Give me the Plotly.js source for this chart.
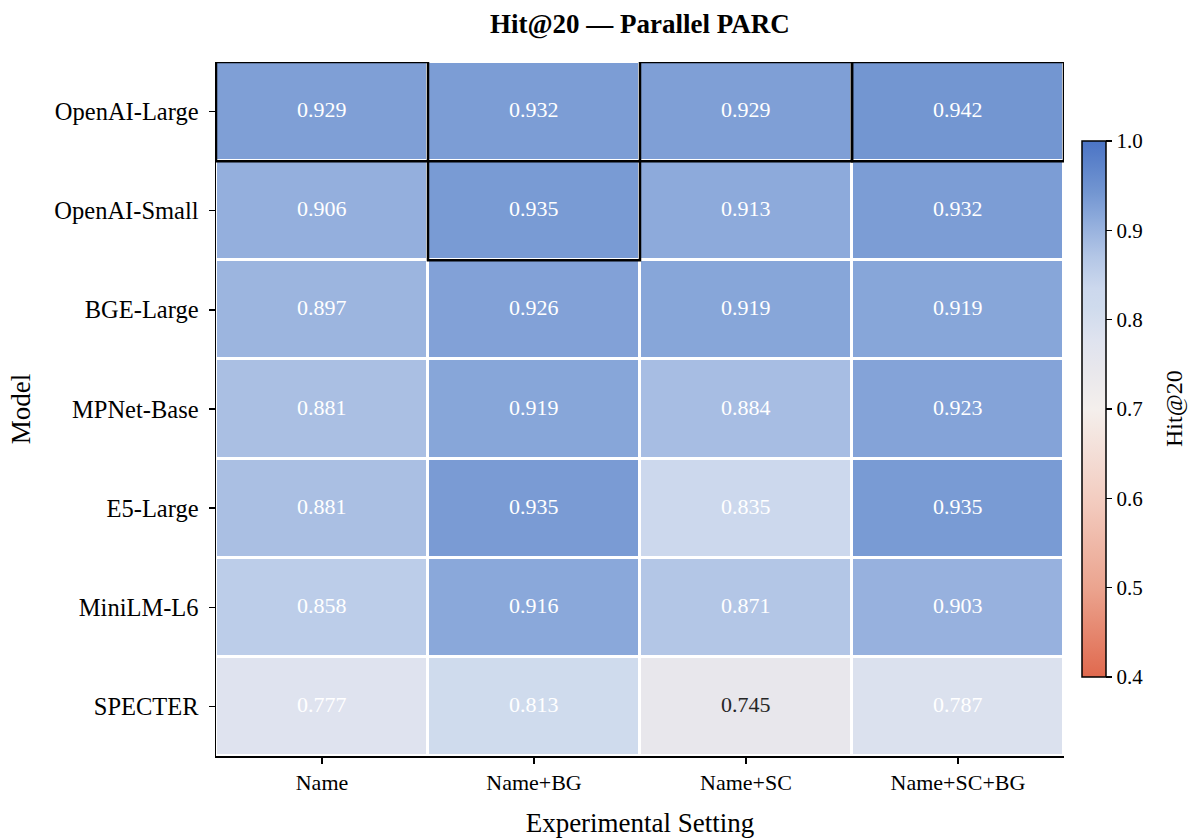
<!DOCTYPE html>
<html>
<head>
<meta charset="utf-8">
<script src="https://cdn.plot.ly/plotly-3.0.1.min.js"></script>
<style>html,body{margin:0;padding:0;background:#fff;}#chart{width:1192px;height:838px;}</style>
</head>
<body>
<div id="chart"></div>
<script>
const settings = ["Name", "Name+BG", "Name+SC", "Name+SC+BG"];
const models = ["OpenAI-Large", "OpenAI-Small", "BGE-Large", "MPNet-Base", "E5-Large", "MiniLM-L6", "SPECTER"];
const hitName      = [0.929, 0.906, 0.897, 0.881, 0.881, 0.858, 0.777];
const hitNameBG    = [0.932, 0.9352, 0.926, 0.919, 0.9348, 0.916, 0.813];
const hitNameSC    = [0.929, 0.913, 0.919, 0.884, 0.835, 0.871, 0.745];
const hitNameSCBG  = [0.942, 0.932, 0.919, 0.923, 0.935, 0.903, 0.787];
const cbTicks = [0.4, 0.5, 0.6, 0.7, 0.8, 0.9, 1.0];

const cols = [hitName, hitNameBG, hitNameSC, hitNameSCBG];
const z = models.map((m, i) => cols.map(c => c[i]));

const vmin = 0.4, vmax = 1.0;
const stops = [
  [0.4, "#e0694e"], [0.5, "#eba48f"], [0.6, "#f3cdc1"], [0.7, "#f4efec"],
  [0.745, "#e8e7ec"], [0.777, "#dfe3ef"], [0.813, "#cfdbed"], [0.835, "#ccd8ed"],
  [0.871, "#b3c6e6"], [0.906, "#94afdd"], [0.916, "#8aa8da"], [0.929, "#7f9fd6"],
  [0.942, "#7396d1"], [1.0, "#4b74c5"]
];
const colorscale = stops.map(s => [(s[0] - vmin) / (vmax - vmin), s[1]]);

const FONT = "Liberation Serif, Times New Roman, serif";

const annotations = [];
models.forEach((m, i) => {
  settings.forEach((s, j) => {
    const v = z[i][j];
    annotations.push({
      x: s, y: m, xref: "x", yref: "y", text: v.toFixed(3), showarrow: false, yshift: 2,
      font: {family: FONT, size: 22, color: v >= 0.75 ? "#ffffff" : "#262626"}
    });
  });
});
annotations.push({
  text: "Hit@20", xref: "paper", yref: "paper", x: (1174 - 216) / 848, y: 0.5,
  xanchor: "center", yanchor: "middle", textangle: -90, showarrow: false,
  font: {family: FONT, size: 24, color: "#000"}
});

const shapes = [];
settings.forEach((s, j) => {
  let best = 0;
  cols[j].forEach((v, i) => { if (v > cols[j][best]) best = i; });
  shapes.push({
    type: "rect", xref: "x", yref: "y",
    x0: j - 0.5, x1: j + 0.5, y0: best - 0.5, y1: best + 0.5,
    line: {color: "#000000", width: 2.5}, fillcolor: "rgba(0,0,0,0)"
  });
});

const trace = {
  type: "heatmap", x: settings, y: models, z: z,
  zmin: vmin, zmax: vmax, colorscale: colorscale,
  xgap: 3, ygap: 3, hoverinfo: "skip",
  colorbar: {
    x: 1.0212, xanchor: "left", xpad: 0, ypad: 0,
    y: 0.5, yanchor: "middle", len: 536, lenmode: "pixels",
    thickness: 24, thicknessmode: "pixels",
    outlinewidth: 1.5, outlinecolor: "#000",
    ticks: "outside", ticklen: 6, tickwidth: 1.5, tickcolor: "#000",
    tickvals: cbTicks, ticktext: cbTicks.map(t => t.toFixed(1)),
    tickfont: {family: FONT, size: 21, color: "#000"}
  }
};

const layout = {
  width: 1192, height: 838,
  margin: {l: 216, r: 128, t: 62, b: 82},
  paper_bgcolor: "#fff", plot_bgcolor: "#fff",
  font: {family: FONT, color: "#000"},
  title: {text: "<b>Hit@20 — Parallel PARC</b>", x: 0.5368, xanchor: "center",
          y: 1 - 24 / 838, yref: "container", yanchor: "middle",
          font: {family: FONT, size: 27, color: "#000"}},
  xaxis: {
    type: "category", showgrid: false, zeroline: false,
    showline: true, linecolor: "#000", linewidth: 1.5,
    ticks: "outside", ticklen: 6, tickwidth: 1.5, tickcolor: "#000",
    tickfont: {family: FONT, size: 22, color: "#000"},
    title: {text: "Experimental Setting", font: {family: FONT, size: 27, color: "#000"}, standoff: 20},
    range: [-0.5, 3.5], fixedrange: true
  },
  yaxis: {
    type: "category", showgrid: false, zeroline: false,
    showline: true, linecolor: "#000", linewidth: 1.5,
    ticks: "outside", ticklen: 6, tickwidth: 1.5, tickcolor: "#000",
    ticklabelstandoff: 5,
    tickfont: {family: FONT, size: 24.5, color: "#000"},
    title: {text: "Model", font: {family: FONT, size: 27, color: "#000"}, standoff: 16},
    range: [6.5, -0.5], fixedrange: true
  },
  annotations: annotations,
  shapes: shapes
};

Plotly.newPlot("chart", [trace], layout, {displayModeBar: false, staticPlot: true});
</script>
</body>
</html>
